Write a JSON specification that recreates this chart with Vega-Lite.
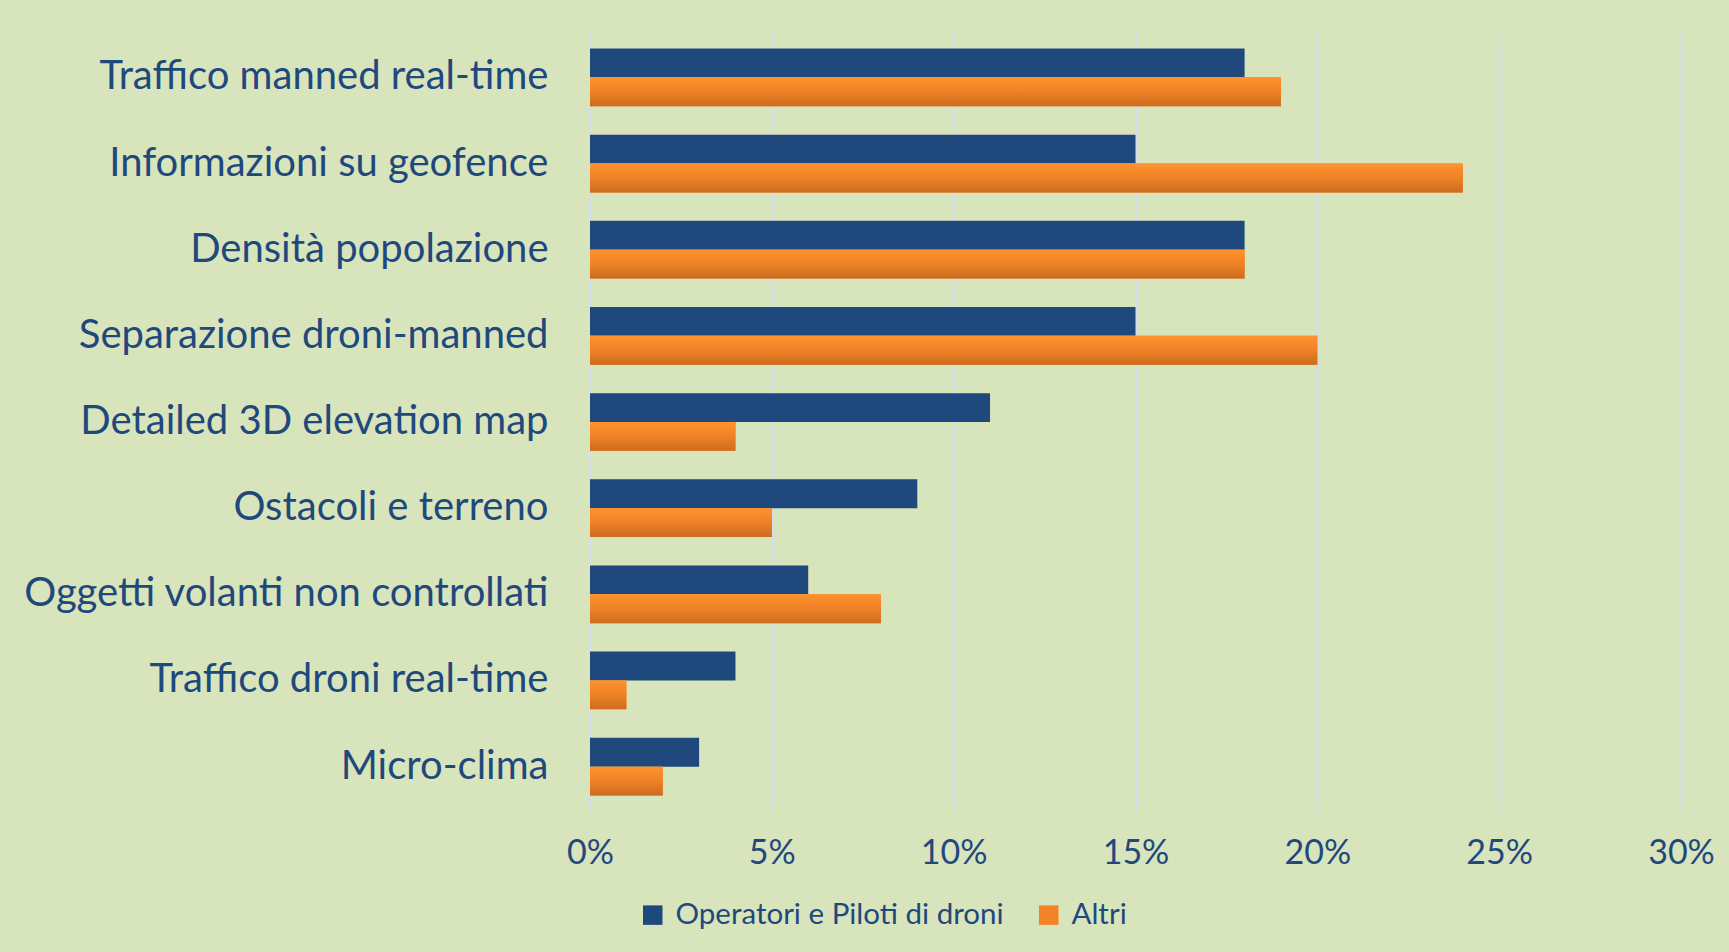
{
  "$schema": "https://vega.github.io/schema/vega-lite/v6.json",
  "width": 1091,
  "height": 778,
  "autosize": "none",
  "padding": {"left": 590, "top": 33, "right": 48, "bottom": 141},
  "background": "#D8E4BC",
  "config": {
    "view": {"stroke": null},
    "font": "Lato"
  },
  "data": {
    "values": [
      {"voce": "Traffico manned real-time", "gruppo": "Operatori e Piloti di droni", "valore": 0.18},
      {"voce": "Traffico manned real-time", "gruppo": "Altri", "valore": 0.19},
      {"voce": "Informazioni su geofence", "gruppo": "Operatori e Piloti di droni", "valore": 0.15},
      {"voce": "Informazioni su geofence", "gruppo": "Altri", "valore": 0.24},
      {"voce": "Densità popolazione", "gruppo": "Operatori e Piloti di droni", "valore": 0.18},
      {"voce": "Densità popolazione", "gruppo": "Altri", "valore": 0.18},
      {"voce": "Separazione droni-manned", "gruppo": "Operatori e Piloti di droni", "valore": 0.15},
      {"voce": "Separazione droni-manned", "gruppo": "Altri", "valore": 0.20},
      {"voce": "Detailed 3D elevation map", "gruppo": "Operatori e Piloti di droni", "valore": 0.11},
      {"voce": "Detailed 3D elevation map", "gruppo": "Altri", "valore": 0.04},
      {"voce": "Ostacoli e terreno", "gruppo": "Operatori e Piloti di droni", "valore": 0.09},
      {"voce": "Ostacoli e terreno", "gruppo": "Altri", "valore": 0.05},
      {"voce": "Oggetti volanti non controllati", "gruppo": "Operatori e Piloti di droni", "valore": 0.06},
      {"voce": "Oggetti volanti non controllati", "gruppo": "Altri", "valore": 0.08},
      {"voce": "Traffico droni real-time", "gruppo": "Operatori e Piloti di droni", "valore": 0.04},
      {"voce": "Traffico droni real-time", "gruppo": "Altri", "valore": 0.01},
      {"voce": "Micro-clima", "gruppo": "Operatori e Piloti di droni", "valore": 0.03},
      {"voce": "Micro-clima", "gruppo": "Altri", "valore": 0.02}
    ]
  },
  "encoding": {
    "y": {
      "field": "voce",
      "type": "nominal",
      "sort": ["Traffico manned real-time", "Informazioni su geofence", "Densità popolazione", "Separazione droni-manned", "Detailed 3D elevation map", "Ostacoli e terreno", "Oggetti volanti non controllati", "Traffico droni real-time", "Micro-clima"],
      "scale": {"paddingInner": 0.33, "paddingOuter": 0.18},
      "axis": {
        "title": null,
        "domain": false,
        "ticks": false,
        "grid": false,
        "labelFontSize": 40,
        "labelColor": "#1F497D",
        "labelPadding": 42,
        "labelLimit": 600
      }
    },
    "yOffset": {
      "field": "gruppo",
      "type": "nominal",
      "sort": ["Operatori e Piloti di droni", "Altri"],
      "scale": {"domain": ["Operatori e Piloti di droni", "Altri"], "paddingInner": 0, "paddingOuter": 0}
    },
    "x": {
      "field": "valore",
      "type": "quantitative",
      "scale": {"domain": [0, 0.3], "nice": false},
      "axis": {
        "title": null,
        "format": ".0%",
        "values": [0, 0.05, 0.1, 0.15, 0.2, 0.25, 0.3],
        "domain": false,
        "ticks": false,
        "grid": true,
        "gridColor": "#D3DEEC",
        "gridWidth": 2,
        "labelFlush": false,
        "labelFontSize": 34,
        "labelColor": "#1F497D",
        "labelPadding": 25
      }
    }
  },
  "layer": [
    {
      "mark": {"type": "bar"},
      "encoding": {
        "color": {
          "field": "gruppo",
          "type": "nominal",
          "scale": {"domain": ["Operatori e Piloti di droni", "Altri"], "range": ["#1F497D", "#F28427"]},
          "legend": {
            "title": null,
            "orient": "none",
            "direction": "horizontal",
            "legendX": 48,
            "legendY": 867,
            "symbolType": "square",
            "symbolSize": 380,
            "symbolStrokeWidth": 0,
            "labelFontSize": 29.5,
            "labelColor": "#1F497D",
            "labelOffset": 8,
            "labelLimit": 600,
            "columnPadding": 30
          }
        }
      }
    },
    {
      "transform": [{"filter": "datum.gruppo === 'Altri'"}],
      "mark": {
        "type": "bar",
        "fill": {
          "gradient": "linear",
          "x1": 0, "y1": 0, "x2": 0, "y2": 1,
          "stops": [
            {"offset": 0, "color": "#FF932E"},
            {"offset": 0.5, "color": "#EE8226"},
            {"offset": 1, "color": "#CC6C1F"}
          ]
        }
      }
    }
  ]
}
